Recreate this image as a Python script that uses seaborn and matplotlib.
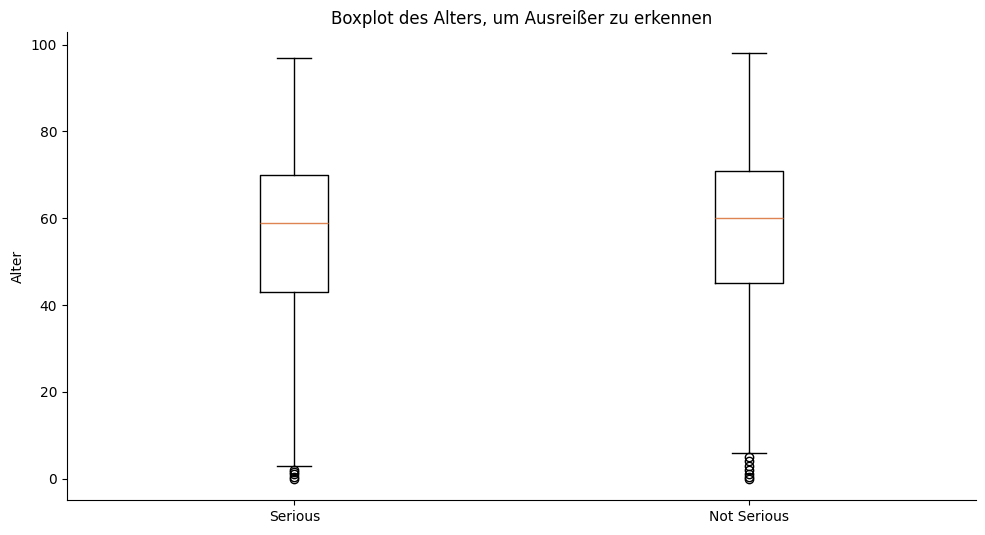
import matplotlib
matplotlib.use("Agg")
import matplotlib.pyplot as plt
import seaborn as sns

# Box statistics
groups = ["Serious", "Not Serious"]
q1 = [43, 45]
medians = [59, 60]
q3 = [70, 71]
whisker_low = [3, 6]
whisker_high = [97, 98]
outliers = [[0, 0.5, 1, 1.5, 2], [0, 0.5, 1, 2, 3, 4, 5]]

stats = []
for i, name in enumerate(groups):
    stats.append({
        "label": name,
        "q1": q1[i],
        "med": medians[i],
        "q3": q3[i],
        "whislo": whisker_low[i],
        "whishi": whisker_high[i],
        "fliers": outliers[i],
    })

median_color = sns.color_palette("deep")[1]

fig, ax = plt.subplots(figsize=(9.85, 5.35), dpi=100)
ax.bxp(stats, showfliers=True, medianprops={"color": median_color})

ax.set_title("Boxplot des Alters, um Ausreißer zu erkennen")
ax.set_ylabel("Alter")
sns.despine(ax=ax)

plt.subplots_adjust(left=0.068, right=0.991, top=0.940, bottom=0.0654)
plt.savefig("out.png", dpi=100)
